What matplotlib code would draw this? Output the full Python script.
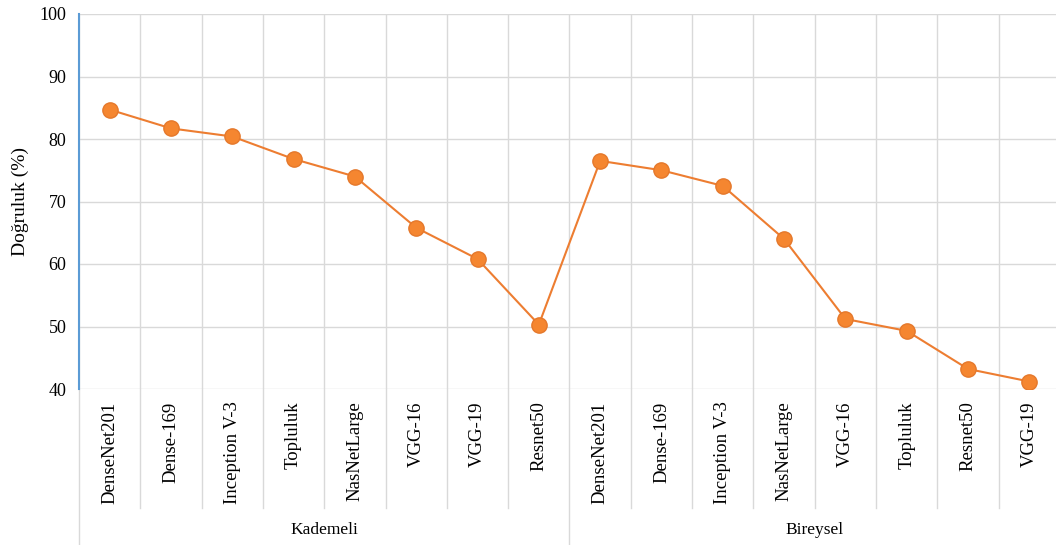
import numpy as np
import matplotlib.pyplot as plt

plt.rcParams['font.family'] = ['Liberation Serif', 'DejaVu Serif']

groups = ['Kademeli', 'Bireysel']
kademeli_models = ['DenseNet201', 'Dense-169', 'Inception V-3', 'Topluluk',
                   'NasNetLarge', 'VGG-16', 'VGG-19', 'Resnet50']
bireysel_models = ['DenseNet201', 'Dense-169', 'Inception V-3', 'NasNetLarge',
                   'VGG-16', 'Topluluk', 'Resnet50', 'VGG-19']
kademeli_acc = [84.7, 81.7, 80.4, 76.8, 74.0, 65.8, 60.8, 50.3]
bireysel_acc = [76.5, 75.0, 72.5, 64.0, 51.2, 49.3, 43.2, 41.2]

labels = kademeli_models + bireysel_models
values = kademeli_acc + bireysel_acc
x = np.arange(len(labels))

fig = plt.figure(figsize=(10.56, 5.45), dpi=100)
ax = fig.add_axes([79 / 1056, 1 - 389 / 545, 981 / 1056, 375 / 545])

grid_c = '#d9d9d9'
ax.plot(x, values, color='#ed7d31', lw=1.5, marker='o', ms=11,
        markerfacecolor='#f58630', markeredgecolor='#e5782b', zorder=3)

ax.set_xlim(-0.5, len(labels) - 0.5)
ax.set_ylim(40, 100)
ax.set_yticks(np.arange(40, 101, 10))
ax.set_xticks(x)
ax.set_xticklabels(labels, rotation=90, va='top', fontsize=13.5)
ax.tick_params(axis='x', length=0, pad=9)
ax.tick_params(axis='y', length=0, pad=9, labelsize=13)

# grid: horizontal at ticks, vertical between categories
for y in range(40, 101, 10):
    ax.axhline(y, color=grid_c, lw=1, zorder=0)
for b in np.arange(-0.5, len(labels), 1):
    ax.axvline(b, color=grid_c, lw=1, zorder=0)

for s in ['top', 'right', 'bottom']:
    ax.spines[s].set_visible(False)
ax.spines['left'].set_color('#5b9bd5')
ax.spines['left'].set_linewidth(1.5)

# category separators below the axis
tr = ax.get_xaxis_transform()
for b in np.arange(-0.5, len(labels), 1):
    k = b + 0.5
    low = -0.416 if k % 8 == 0 else -0.317
    ax.plot([b, b], [0, low], color=grid_c, lw=1, transform=tr, clip_on=False)

for i, g in enumerate(groups):
    ax.text(3.5 + 8 * i, -0.376, g, transform=tr, ha='center', va='center',
            fontsize=12.5)

ax.set_ylabel('Doğruluk (%)', fontsize=14, labelpad=8)

fig.savefig('out.png', dpi=100)
